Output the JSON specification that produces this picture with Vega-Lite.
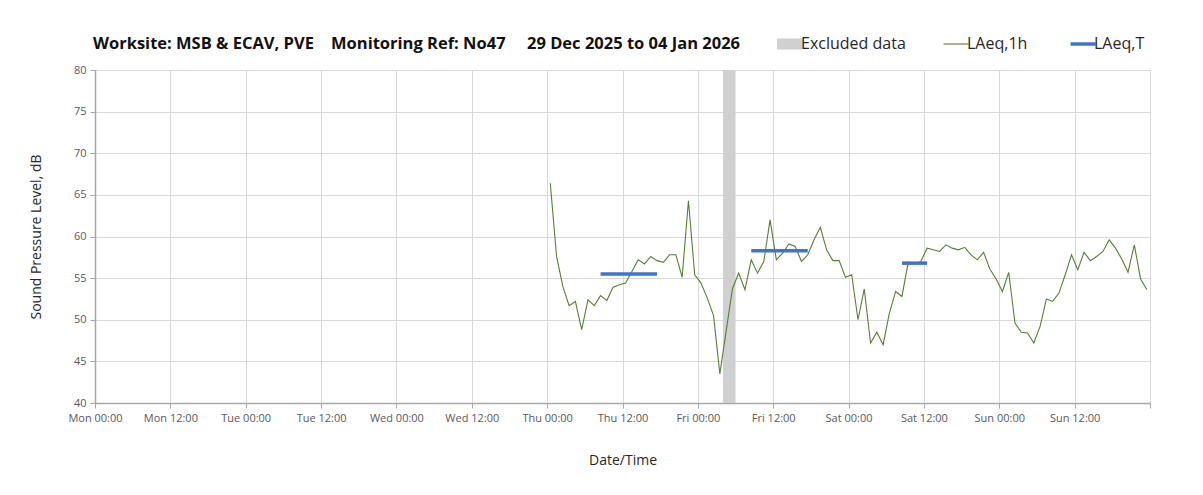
{
  "$schema": "https://vega.github.io/schema/vega-lite/v6.json",
  "width": 1055,
  "height": 333,
  "autosize": {"type": "none"},
  "padding": {"left": 95, "top": 70, "right": 53, "bottom": 92},
  "background": "white",
  "title": {
    "text": "Worksite: MSB & ECAV, PVE\u00a0\u00a0\u00a0\u00a0Monitoring Ref: No47\u00a0\u00a0\u00a0\u00a0\u00a029 Dec 2025 to 04 Jan 2026",
    "anchor": "start",
    "frame": "group",
    "font": "Open Sans",
    "fontSize": 16.5,
    "fontWeight": "bold",
    "color": "#111111",
    "offset": 20,
    "dx": -2,
    "dy": 36
  },
  "config": {
    "view": {"stroke": null},
    "font": "Open Sans",
    "axis": {
      "labelFont": "Open Sans",
      "titleFont": "Open Sans",
      "labelColor": "#595959",
      "labelFontSize": 11,
      "titleFontSize": 14,
      "titleFontWeight": "normal",
      "titleColor": "#262626",
      "gridColor": "#d9d9d9",
      "gridWidth": 1,
      "domainColor": "#a6a6a6",
      "domainWidth": 1.5,
      "tickColor": "#a6a6a6",
      "tickSize": 5
    }
  },
  "datasets": {
    "laeq1h": [
      {"t": "2026-01-01T00:30:00Z", "v": 66.4, "series": "LAeq,1h"},
      {"t": "2026-01-01T01:30:00Z", "v": 57.6, "series": "LAeq,1h"},
      {"t": "2026-01-01T02:30:00Z", "v": 54.0, "series": "LAeq,1h"},
      {"t": "2026-01-01T03:30:00Z", "v": 51.7, "series": "LAeq,1h"},
      {"t": "2026-01-01T04:30:00Z", "v": 52.2, "series": "LAeq,1h"},
      {"t": "2026-01-01T05:30:00Z", "v": 48.8, "series": "LAeq,1h"},
      {"t": "2026-01-01T06:30:00Z", "v": 52.4, "series": "LAeq,1h"},
      {"t": "2026-01-01T07:30:00Z", "v": 51.7, "series": "LAeq,1h"},
      {"t": "2026-01-01T08:30:00Z", "v": 52.9, "series": "LAeq,1h"},
      {"t": "2026-01-01T09:30:00Z", "v": 52.3, "series": "LAeq,1h"},
      {"t": "2026-01-01T10:30:00Z", "v": 53.9, "series": "LAeq,1h"},
      {"t": "2026-01-01T11:30:00Z", "v": 54.2, "series": "LAeq,1h"},
      {"t": "2026-01-01T12:30:00Z", "v": 54.4, "series": "LAeq,1h"},
      {"t": "2026-01-01T13:30:00Z", "v": 55.8, "series": "LAeq,1h"},
      {"t": "2026-01-01T14:30:00Z", "v": 57.2, "series": "LAeq,1h"},
      {"t": "2026-01-01T15:30:00Z", "v": 56.7, "series": "LAeq,1h"},
      {"t": "2026-01-01T16:30:00Z", "v": 57.6, "series": "LAeq,1h"},
      {"t": "2026-01-01T17:30:00Z", "v": 57.1, "series": "LAeq,1h"},
      {"t": "2026-01-01T18:30:00Z", "v": 56.9, "series": "LAeq,1h"},
      {"t": "2026-01-01T19:30:00Z", "v": 57.8, "series": "LAeq,1h"},
      {"t": "2026-01-01T20:30:00Z", "v": 57.8, "series": "LAeq,1h"},
      {"t": "2026-01-01T21:30:00Z", "v": 55.1, "series": "LAeq,1h"},
      {"t": "2026-01-01T22:30:00Z", "v": 64.3, "series": "LAeq,1h"},
      {"t": "2026-01-01T23:30:00Z", "v": 55.4, "series": "LAeq,1h"},
      {"t": "2026-01-02T00:30:00Z", "v": 54.4, "series": "LAeq,1h"},
      {"t": "2026-01-02T01:30:00Z", "v": 52.6, "series": "LAeq,1h"},
      {"t": "2026-01-02T02:30:00Z", "v": 50.5, "series": "LAeq,1h"},
      {"t": "2026-01-02T03:30:00Z", "v": 43.5, "series": "LAeq,1h"},
      {"t": "2026-01-02T05:30:00Z", "v": 53.7, "series": "LAeq,1h"},
      {"t": "2026-01-02T06:30:00Z", "v": 55.6, "series": "LAeq,1h"},
      {"t": "2026-01-02T07:30:00Z", "v": 53.6, "series": "LAeq,1h"},
      {"t": "2026-01-02T08:30:00Z", "v": 57.2, "series": "LAeq,1h"},
      {"t": "2026-01-02T09:30:00Z", "v": 55.6, "series": "LAeq,1h"},
      {"t": "2026-01-02T10:30:00Z", "v": 57.0, "series": "LAeq,1h"},
      {"t": "2026-01-02T11:30:00Z", "v": 62.0, "series": "LAeq,1h"},
      {"t": "2026-01-02T12:30:00Z", "v": 57.2, "series": "LAeq,1h"},
      {"t": "2026-01-02T13:30:00Z", "v": 58.0, "series": "LAeq,1h"},
      {"t": "2026-01-02T14:30:00Z", "v": 59.1, "series": "LAeq,1h"},
      {"t": "2026-01-02T15:30:00Z", "v": 58.8, "series": "LAeq,1h"},
      {"t": "2026-01-02T16:30:00Z", "v": 57.0, "series": "LAeq,1h"},
      {"t": "2026-01-02T17:30:00Z", "v": 57.8, "series": "LAeq,1h"},
      {"t": "2026-01-02T18:30:00Z", "v": 59.6, "series": "LAeq,1h"},
      {"t": "2026-01-02T19:30:00Z", "v": 61.1, "series": "LAeq,1h"},
      {"t": "2026-01-02T20:30:00Z", "v": 58.4, "series": "LAeq,1h"},
      {"t": "2026-01-02T21:30:00Z", "v": 57.1, "series": "LAeq,1h"},
      {"t": "2026-01-02T22:30:00Z", "v": 57.1, "series": "LAeq,1h"},
      {"t": "2026-01-02T23:30:00Z", "v": 55.1, "series": "LAeq,1h"},
      {"t": "2026-01-03T00:30:00Z", "v": 55.4, "series": "LAeq,1h"},
      {"t": "2026-01-03T01:30:00Z", "v": 50.0, "series": "LAeq,1h"},
      {"t": "2026-01-03T02:30:00Z", "v": 53.7, "series": "LAeq,1h"},
      {"t": "2026-01-03T03:30:00Z", "v": 47.2, "series": "LAeq,1h"},
      {"t": "2026-01-03T04:30:00Z", "v": 48.5, "series": "LAeq,1h"},
      {"t": "2026-01-03T05:30:00Z", "v": 47.0, "series": "LAeq,1h"},
      {"t": "2026-01-03T06:30:00Z", "v": 50.8, "series": "LAeq,1h"},
      {"t": "2026-01-03T07:30:00Z", "v": 53.4, "series": "LAeq,1h"},
      {"t": "2026-01-03T08:30:00Z", "v": 52.8, "series": "LAeq,1h"},
      {"t": "2026-01-03T09:30:00Z", "v": 56.9, "series": "LAeq,1h"},
      {"t": "2026-01-03T10:30:00Z", "v": 56.7, "series": "LAeq,1h"},
      {"t": "2026-01-03T11:30:00Z", "v": 57.0, "series": "LAeq,1h"},
      {"t": "2026-01-03T12:30:00Z", "v": 58.6, "series": "LAeq,1h"},
      {"t": "2026-01-03T13:30:00Z", "v": 58.4, "series": "LAeq,1h"},
      {"t": "2026-01-03T14:30:00Z", "v": 58.2, "series": "LAeq,1h"},
      {"t": "2026-01-03T15:30:00Z", "v": 59.0, "series": "LAeq,1h"},
      {"t": "2026-01-03T16:30:00Z", "v": 58.6, "series": "LAeq,1h"},
      {"t": "2026-01-03T17:30:00Z", "v": 58.4, "series": "LAeq,1h"},
      {"t": "2026-01-03T18:30:00Z", "v": 58.7, "series": "LAeq,1h"},
      {"t": "2026-01-03T19:30:00Z", "v": 57.8, "series": "LAeq,1h"},
      {"t": "2026-01-03T20:30:00Z", "v": 57.2, "series": "LAeq,1h"},
      {"t": "2026-01-03T21:30:00Z", "v": 58.1, "series": "LAeq,1h"},
      {"t": "2026-01-03T22:30:00Z", "v": 56.1, "series": "LAeq,1h"},
      {"t": "2026-01-03T23:30:00Z", "v": 54.9, "series": "LAeq,1h"},
      {"t": "2026-01-04T00:30:00Z", "v": 53.4, "series": "LAeq,1h"},
      {"t": "2026-01-04T01:30:00Z", "v": 55.7, "series": "LAeq,1h"},
      {"t": "2026-01-04T02:30:00Z", "v": 49.6, "series": "LAeq,1h"},
      {"t": "2026-01-04T03:30:00Z", "v": 48.5, "series": "LAeq,1h"},
      {"t": "2026-01-04T04:30:00Z", "v": 48.4, "series": "LAeq,1h"},
      {"t": "2026-01-04T05:30:00Z", "v": 47.2, "series": "LAeq,1h"},
      {"t": "2026-01-04T06:30:00Z", "v": 49.2, "series": "LAeq,1h"},
      {"t": "2026-01-04T07:30:00Z", "v": 52.5, "series": "LAeq,1h"},
      {"t": "2026-01-04T08:30:00Z", "v": 52.2, "series": "LAeq,1h"},
      {"t": "2026-01-04T09:30:00Z", "v": 53.2, "series": "LAeq,1h"},
      {"t": "2026-01-04T10:30:00Z", "v": 55.4, "series": "LAeq,1h"},
      {"t": "2026-01-04T11:30:00Z", "v": 57.8, "series": "LAeq,1h"},
      {"t": "2026-01-04T12:30:00Z", "v": 56.0, "series": "LAeq,1h"},
      {"t": "2026-01-04T13:30:00Z", "v": 58.1, "series": "LAeq,1h"},
      {"t": "2026-01-04T14:30:00Z", "v": 57.1, "series": "LAeq,1h"},
      {"t": "2026-01-04T15:30:00Z", "v": 57.6, "series": "LAeq,1h"},
      {"t": "2026-01-04T16:30:00Z", "v": 58.2, "series": "LAeq,1h"},
      {"t": "2026-01-04T17:30:00Z", "v": 59.6, "series": "LAeq,1h"},
      {"t": "2026-01-04T18:30:00Z", "v": 58.6, "series": "LAeq,1h"},
      {"t": "2026-01-04T19:30:00Z", "v": 57.3, "series": "LAeq,1h"},
      {"t": "2026-01-04T20:30:00Z", "v": 55.7, "series": "LAeq,1h"},
      {"t": "2026-01-04T21:30:00Z", "v": 59.0, "series": "LAeq,1h"},
      {"t": "2026-01-04T22:30:00Z", "v": 54.9, "series": "LAeq,1h"},
      {"t": "2026-01-04T23:30:00Z", "v": 53.6, "series": "LAeq,1h"}
    ],
    "laeqT": [
      {"start": "2026-01-01T08:30:00Z", "end": "2026-01-01T17:30:00Z", "v": 55.5, "series": "LAeq,T"},
      {"start": "2026-01-02T08:30:00Z", "end": "2026-01-02T17:30:00Z", "v": 58.3, "series": "LAeq,T"},
      {"start": "2026-01-03T08:30:00Z", "end": "2026-01-03T12:30:00Z", "v": 56.8, "series": "LAeq,T"}
    ],
    "excluded": [
      {"start": "2026-01-02T04:00:00Z", "end": "2026-01-02T06:00:00Z", "series": "Excluded data"}
    ]
  },
  "layer": [
    {
      "data": {"name": "excluded"},
      "mark": {"type": "rect", "color": "#d0d0d0"},
      "encoding": {
        "x": {
          "field": "start",
          "type": "temporal",
          "scale": {"type": "utc", "domain": ["2025-12-29T00:00:00Z", "2026-01-05T00:00:00Z"]},
          "axis": {
            "title": "Date/Time",
            "titlePadding": 30,
            "labelPadding": 4,
            "labelOverlap": false,
            "labelFlush": false,
            "labelExpr": "datum.index >= 1 ? '' : utcFormat(datum.value, '%a %H:%M')",
            "values": [
              "2025-12-29T00:00:00Z", "2025-12-29T12:00:00Z",
              "2025-12-30T00:00:00Z", "2025-12-30T12:00:00Z",
              "2025-12-31T00:00:00Z", "2025-12-31T12:00:00Z",
              "2026-01-01T00:00:00Z", "2026-01-01T12:00:00Z",
              "2026-01-02T00:00:00Z", "2026-01-02T12:00:00Z",
              "2026-01-03T00:00:00Z", "2026-01-03T12:00:00Z",
              "2026-01-04T00:00:00Z", "2026-01-04T12:00:00Z",
              "2026-01-05T00:00:00Z"
            ]
          }
        },
        "x2": {"field": "end"},
        "color": {"field": "series", "type": "nominal"}
      }
    },
    {
      "data": {"name": "laeq1h"},
      "mark": {"type": "line", "strokeWidth": 1.1},
      "encoding": {
        "x": {
          "field": "t",
          "type": "temporal",
          "scale": {"type": "utc", "domain": ["2025-12-29T00:00:00Z", "2026-01-05T00:00:00Z"]}
        },
        "y": {
          "field": "v",
          "type": "quantitative",
          "scale": {"domain": [40, 80], "nice": false, "zero": false},
          "axis": {
            "title": "Sound Pressure Level, dB",
            "values": [40, 45, 50, 55, 60, 65, 70, 75, 80],
            "titlePadding": 30,
            "labelPadding": 4
          }
        },
        "color": {"field": "series", "type": "nominal"}
      }
    },
    {
      "data": {"name": "laeqT"},
      "mark": {"type": "rule", "strokeWidth": 3.5, "strokeCap": "butt"},
      "encoding": {
        "x": {
          "field": "start",
          "type": "temporal",
          "scale": {"type": "utc", "domain": ["2025-12-29T00:00:00Z", "2026-01-05T00:00:00Z"]}
        },
        "x2": {"field": "end"},
        "y": {"field": "v", "type": "quantitative"},
        "color": {
          "field": "series",
          "type": "nominal",
          "scale": {
            "domain": ["Excluded data", "LAeq,1h", "LAeq,T"],
            "range": ["#d0d0d0", "#5a7d3a", "#4472c4"]
          },
          "legend": {
            "title": null,
            "orient": "none",
            "direction": "horizontal",
            "legendX": 687,
            "legendY": -34,
            "labelFont": "Open Sans",
            "labelFontSize": 16,
            "labelColor": "#262626",
            "labelOffset": 3,
            "columnPadding": 35,
            "symbolSize": 625,
            "labelLimit": 300,
            "encode": {
              "symbols": {
                "update": {
                  "shape": {"signal": "datum.value == 'Excluded data' ? 'M-1,-0.4H1V0.4H-1Z' : 'stroke'"},
                  "fill": {"signal": "datum.value == 'Excluded data' ? '#d0d0d0' : 'transparent'"},
                  "stroke": {"signal": "datum.value == 'Excluded data' ? 'transparent' : (datum.value == 'LAeq,T' ? '#4472c4' : '#5a7d3a')"},
                  "strokeWidth": {"signal": "datum.value == 'LAeq,T' ? 3.5 : 1.1"},
                  "opacity": {"value": 1}
                }
              }
            }
          }
        }
      }
    }
  ]
}
